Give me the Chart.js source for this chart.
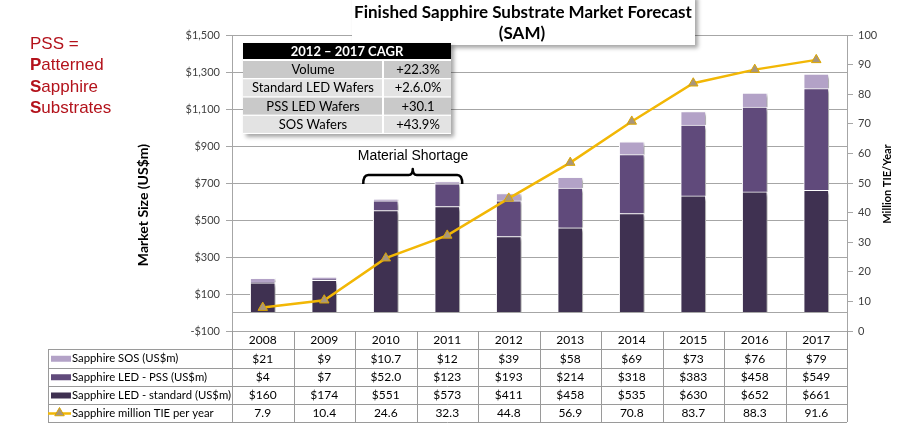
<!DOCTYPE html>
<html><head><meta charset="utf-8">
<script src="https://cdn.jsdelivr.net/npm/chart.js@4.4.1/dist/chart.umd.min.js"></script>
<style>html,body{margin:0;padding:0;background:#fff;}#wrap{width:916px;height:427px;position:relative;}</style>
</head><body><div id="wrap"><canvas id="c" width="916" height="427"></canvas></div>
<script>
const years = ['2008','2009','2010','2011','2012','2013','2014','2015','2016','2017'];
const sosValues = [21, 9, 10.7, 12, 39, 58, 69, 73, 76, 79];
const pssValues = [4, 7, 52.0, 123, 193, 214, 318, 383, 458, 549];
const standardValues = [160, 174, 551, 573, 411, 458, 535, 630, 652, 661];
const tieValues = [7.9, 10.4, 24.6, 32.3, 44.8, 56.9, 70.8, 83.7, 88.3, 91.6];
const sosText = ['$21','$9','$10.7','$12','$39','$58','$69','$73','$76','$79'];
const pssText = ['$4','$7','$52.0','$123','$193','$214','$318','$383','$458','$549'];
const standardText = ['$160','$174','$551','$573','$411','$458','$535','$630','$652','$661'];
const tieText = ['7.9','10.4','24.6','32.3','44.8','56.9','70.8','83.7','88.3','91.6'];
const leftTicks = [-100, 0, 100, 300, 500, 700, 900, 1100, 1300, 1500];
const rightTicks = [0,10,20,30,40,50,60,70,80,90,100];
const seriesNames = ['Sapphire SOS (US$m)','Sapphire LED - PSS (US$m)','Sapphire LED - standard (US$m)','Sapphire million TIE per year'];
const cagrTitle = '2012 \u2013 2017 CAGR';
const cagrLabels = ['Volume','Standard LED Wafers','PSS LED Wafers','SOS Wafers'];
const cagrValues = ['+22.3%','+2.6.0%','+30.1','+43.9%'];
const pssNote = [['P','SS ='],['P','atterned'],['S','apphire'],['S','ubstrates']];
const chartTitle = ['Finished Sapphire Substrate Market Forecast','(SAM)'];
const shortageLabel = 'Material Shortage';

const C_STD = '#3f3151', C_PSS = '#604a7b', C_SOS = '#b3a2c7', C_LINE = '#f2b705', C_MARK = '#a8967c';
const GRID = '#a6a6a6';
const FONT = 'Lato, "Open Sans", sans-serif';

function fmtMoney(v){ return (v<0?'-$':'$') + Math.abs(v).toLocaleString('en-US'); }

const shadowPlugin = {
  id:'shadow',
  beforeDatasetDraw(chart,args){
    if(args.meta.type==='bar'){ const c=chart.ctx; c.save(); c.shadowColor='rgba(0,0,0,0.35)'; c.shadowOffsetX=3; c.shadowOffsetY=2; c.shadowBlur=3; }
  },
  afterDatasetDraw(chart,args){ if(args.meta.type==='bar'){ chart.ctx.restore(); } }
};

function tri(ctx,x,y,r){ ctx.beginPath(); ctx.moveTo(x,y-r); ctx.lineTo(x+r*0.95,y+r*0.65); ctx.lineTo(x-r*0.95,y+r*0.65); ctx.closePath(); }

const overlayPlugin = {
  id:'overlay',
  afterDraw(chart){
    const ctx = chart.ctx, xs = chart.scales.x, ca = chart.chartArea;
    const L = 48, R = ca.right, top = ca.bottom;
    const rowY = [349, 367.5, 386, 404, 422];
    ctx.save();
    // table lines
    ctx.strokeStyle = '#9a9a9a'; ctx.lineWidth = 1;
    rowY.forEach(y=>{ ctx.beginPath(); ctx.moveTo(L, Math.round(y)+0.5); ctx.lineTo(R, Math.round(y)+0.5); ctx.stroke(); });
    ctx.beginPath(); ctx.moveTo(L+0.5, rowY[0]); ctx.lineTo(L+0.5, rowY[4]); ctx.stroke();
    const step = xs.getPixelForValue(1) - xs.getPixelForValue(0);
    for(let i=0;i<=years.length;i++){
      const x = Math.round(xs.getPixelForValue(0) - step/2 + i*step)+0.5;
      ctx.beginPath(); ctx.moveTo(x, top); ctx.lineTo(x, rowY[4]); ctx.stroke();
    }
    // years
    ctx.fillStyle = '#000'; ctx.textAlign='center'; ctx.textBaseline='middle';
    ctx.font = '12px '+FONT;
    years.forEach((y,i)=>ctx.fillText(y, xs.getPixelForValue(i), 340.5));
    const rows = [sosText, pssText, standardText, tieText];
    rows.forEach((arr,r)=>{
      const cy = (rowY[r]+rowY[r+1])/2+0.5;
      arr.forEach((t,i)=>ctx.fillText(t, xs.getPixelForValue(i), cy));
    });
    // row labels + swatches
    ctx.textAlign='left';
    ctx.font = '11.3px '+FONT;
    const sw = [C_SOS, C_PSS, C_STD];
    seriesNames.forEach((n,r)=>{
      const cy = (rowY[r]+rowY[r+1])/2+0.5;
      if(r<3){ ctx.fillStyle = sw[r]; ctx.fillRect(51, cy-3, 20, 6); }
      else { ctx.strokeStyle=C_LINE; ctx.lineWidth=2.5; ctx.beginPath(); ctx.moveTo(48,cy); ctx.lineTo(71,cy); ctx.stroke();
        ctx.fillStyle=C_MARK; tri(ctx,59.5,cy-1,5); ctx.fill(); ctx.lineWidth=1; ctx.strokeStyle='#d9a400'; ctx.stroke(); }
      ctx.fillStyle='#000'; ctx.fillText(n, 72, cy);
    });
    // axis titles
    ctx.save(); ctx.translate(143, 205); ctx.rotate(-Math.PI/2);
    ctx.font = 'bold 14px '+FONT; ctx.textAlign='center'; ctx.fillStyle='#000'; ctx.fillText('Market Size (US$m)',0,0); ctx.restore();
    ctx.save(); ctx.translate(887, 184); ctx.rotate(-Math.PI/2);
    ctx.font = 'bold 11px '+FONT; ctx.textAlign='center'; ctx.fillStyle='#000'; ctx.fillText('Million TIE/Year',0,0); ctx.restore();
    // Material shortage
    ctx.fillStyle='#000'; ctx.font='14px "Liberation Sans", Arial, sans-serif'; ctx.textAlign='center';
    ctx.fillText(shortageLabel, 413, 156);
    const x2010 = xs.getPixelForValue(2), x2011 = xs.getPixelForValue(3);
    const bx1 = x2010 - 22.5, bx2 = x2011 + 15, bm = (bx1+bx2)/2;
    ctx.strokeStyle='#000'; ctx.lineWidth=2.5; ctx.lineJoin='round';
    ctx.beginPath(); ctx.moveTo(bx1, 184); ctx.quadraticCurveTo(bx1, 175, bx1+5, 175); ctx.lineTo(bm-4,175);
    ctx.quadraticCurveTo(bm,175,bm,169); ctx.quadraticCurveTo(bm,175,bm+4,175); ctx.lineTo(bx2-5,175); ctx.quadraticCurveTo(bx2,175,bx2,184); ctx.stroke();
    // title box
    ctx.save(); ctx.shadowColor='rgba(0,0,0,0.35)'; ctx.shadowOffsetX=3; ctx.shadowOffsetY=3; ctx.shadowBlur=4;
    ctx.fillStyle='#fff'; ctx.fillRect(352, -5, 343, 50); ctx.restore();
    ctx.fillStyle='#000'; ctx.font='bold 17px '+FONT; ctx.textAlign='center';
    ctx.fillText(chartTitle[0], 523, 13); ctx.fillText(chartTitle[1], 522, 34);
    // CAGR table
    const tx=243, tw=208, cx=383;
    ctx.save(); ctx.shadowColor='rgba(0,0,0,0.35)'; ctx.shadowOffsetX=3; ctx.shadowOffsetY=3; ctx.shadowBlur=4;
    ctx.fillStyle='#fff'; ctx.fillRect(tx, 43, tw, 91); ctx.restore();
    ctx.fillStyle='#000'; ctx.fillRect(tx, 43, tw, 16);
    ctx.fillStyle='#fff'; ctx.font='bold 13px '+FONT; ctx.fillText(cagrTitle, tx+tw/2, 51.5);
    ctx.font='13px '+FONT;
    cagrLabels.forEach((l,i)=>{
      const y0 = 61 + i*18.3;
      ctx.fillStyle = i%2===0 ? '#c9c9c9' : '#e3e3e3';
      ctx.fillRect(tx, y0, cx-tx-1, 17); ctx.fillRect(cx+1, y0, tx+tw-cx-1, 17);
      ctx.fillStyle='#000';
      ctx.fillText(l, (tx+cx)/2, y0+9); ctx.fillText(cagrValues[i], (cx+tx+tw)/2+1, y0+9);
    });
    // PSS note
    ctx.textAlign='left'; ctx.textBaseline='alphabetic'; ctx.fillStyle='#b3121b';
    pssNote.forEach((p,i)=>{
      const y = 49 + i*21.4;
      ctx.font = (i===0?'':'bold ')+'17px "Liberation Sans", Arial, sans-serif';
      ctx.fillText(p[0], 30, y); const w = ctx.measureText(p[0]).width;
      ctx.font = '17px "Liberation Sans", Arial, sans-serif';
      ctx.fillText(p[1], 30+w, y);
    });
    ctx.restore();
  }
};

new Chart(document.getElementById('c'), {
  type:'bar',
  data:{ labels: years, datasets:[
    {label:seriesNames[2], data:standardValues, backgroundColor:C_STD, borderColor:'#fff', borderWidth:1, borderSkipped:'bottom', stack:'s', yAxisID:'y', order:1, barThickness:25},
    {label:seriesNames[1], data:pssValues, backgroundColor:C_PSS, borderColor:'#fff', borderWidth:1, borderSkipped:'bottom', stack:'s', yAxisID:'y', order:1, barThickness:25},
    {label:seriesNames[0], data:sosValues, backgroundColor:C_SOS, borderColor:'#fff', borderWidth:1, borderSkipped:'bottom', stack:'s', yAxisID:'y', order:1, barThickness:25},
    {type:'line', label:seriesNames[3], data:tieValues, yAxisID:'y1', order:0, borderColor:C_LINE, borderWidth:2.5, tension:0,
     pointStyle:'triangle', pointRadius:5.5, pointBackgroundColor:C_MARK, pointBorderColor:'#dca600', pointBorderWidth:1, fill:false}
  ]},
  options:{
    responsive:false, animation:false, devicePixelRatio:1,
    layout:{padding:{top:35, left:0, right:0, bottom:0}},
    plugins:{legend:{display:false}, tooltip:{enabled:false}},
    scales:{
      x:{ stacked:true, grid:{display:false}, border:{display:false}, ticks:{display:false}, afterFit(s){ s.height = 96; } },
      y:{ stacked:true, position:'left', min:-100, max:1500,
        afterBuildTicks(s){ s.ticks = leftTicks.map(v=>({value:v})); },
        afterFit(s){ s.width = 232; },
        grid:{ color:GRID, tickLength:6, tickColor:(c)=> (c.tick && c.tick.value===0) ? 'rgba(0,0,0,0)' : GRID },
        border:{ color:GRID },
        ticks:{ padding:6, color:'#404040', font:{family:FONT, size:11}, callback:(v)=> v===0 ? '' : fmtMoney(v) } },
      y1:{ position:'right', min:0, max:100,
        afterBuildTicks(s){ s.ticks = rightTicks.map(v=>({value:v})); },
        afterFit(s){ s.width = 69; },
        grid:{ drawOnChartArea:false, color:GRID, tickLength:6 }, border:{ color:GRID },
        ticks:{ padding:5, color:'#404040', font:{family:FONT, size:11} } }
    }
  },
  plugins:[shadowPlugin, overlayPlugin]
});
</script></body></html>
